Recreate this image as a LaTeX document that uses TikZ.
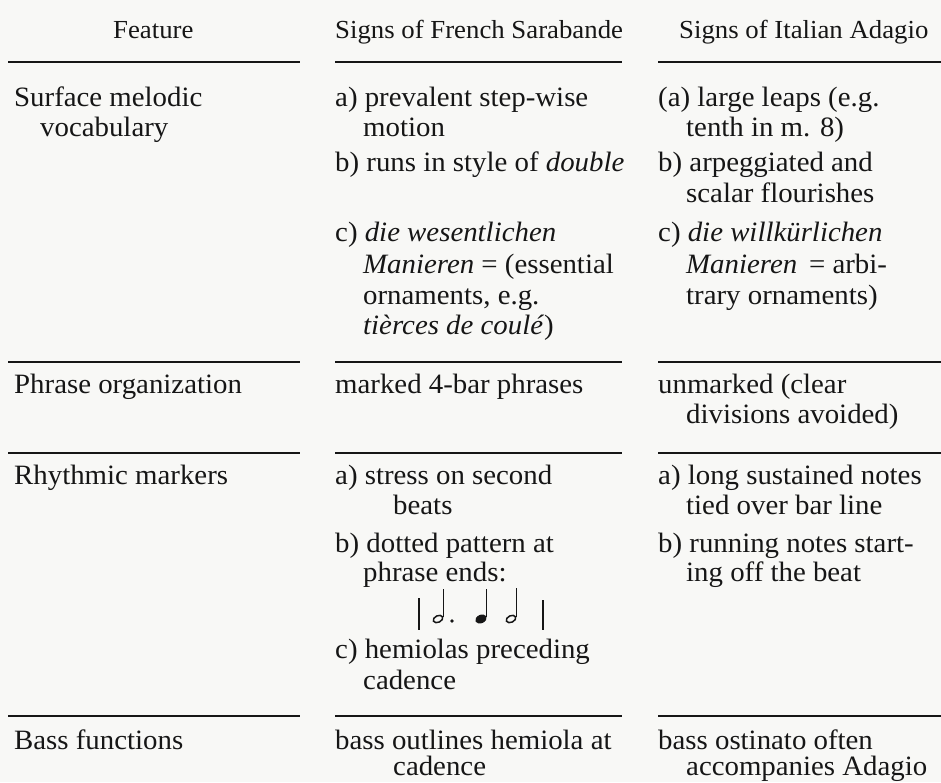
\documentclass[tikz,border=0pt]{standalone}
\usepackage{fontspec}
\setmainfont{Liberation Serif}[FakeStretch=1.03]
\definecolor{ink}{HTML}{161616}
\definecolor{paper}{HTML}{F8F8F6}
\newcommand\Tx[4]{\node[txt] (#1) at (#2,{782-#3}) {#4};}
\newcommand\Hx[4]{\node[hdr] (#1) at (#2,{782-#3}) {#4};}
\begin{document}
\begin{tikzpicture}[x=1pt,y=1pt,
  txt/.style={anchor=base west,inner sep=0pt,text=ink,font=\fontsize{28}{30}\selectfont},
  hdr/.style={anchor=base west,inner sep=0pt,text=ink,font=\fontsize{26}{30}\selectfont},
  rulee/.style={draw=ink,line width=1.8pt},
  bar/.style={draw=ink,line width=1.6pt},
  stem/.style={draw=ink,line width=1.3pt}]
\useasboundingbox (0,0) rectangle (941,782);
\fill[paper] (0,0) rectangle (941,782);
% header
\Hx{h1}{113}{39}{Feature}
\Hx{h2}{335}{39}{Signs of French Sarabande}
\Hx{h3}{679}{39}{Signs of Italian Adagio}
% rules
\foreach \y in {62,362,453,716}{
  \draw[rulee] (8,{782-\y}) -- (300,{782-\y});
  \draw[rulee] (335,{782-\y}) -- (622,{782-\y});
  \draw[rulee] (658,{782-\y}) -- (941,{782-\y});
}
% row 1
\Tx{r1a}{14}{107}{Surface melodic}
\Tx{r1b}{40}{137}{vocabulary}
\Tx{f1a}{335}{107}{a) prevalent step-wise}
\Tx{f1b}{363}{137}{motion}
\Tx{f1c}{335}{172}{b) runs in style of \textit{double}}
\Tx{f1d}{335}{242}{c) \textit{die wesentlichen}}
\Tx{f1e}{363}{274}{\textit{Manieren} = (essential}
\Tx{f1f}{363}{305}{ornaments, e.g.}
\Tx{f1g}{363}{335}{\textit{tièrces de coulé})}
\Tx{i1a}{658}{107}{(a) large leaps (e.g.}
\Tx{i1b}{686}{137}{tenth in m. 8)}
\Tx{i1c}{658}{172}{b) arpeggiated and}
\Tx{i1d}{686}{203}{scalar flourishes}
\Tx{i1e}{658}{242}{c) \textit{die willkürlichen}}
\Tx{i1f}{686}{274}{\textit{Manieren}\, = arbi-}
\Tx{i1g}{686}{305}{trary ornaments)}
% row 2
\Tx{r2a}{14}{394}{Phrase organization}
\Tx{f2a}{335}{394}{marked 4-bar phrases}
\Tx{i2a}{658}{394}{unmarked (clear}
\Tx{i2b}{686}{424}{divisions avoided)}
% row 3
\Tx{r3a}{14}{484}{Rhythmic markers}
\Tx{f3a}{335}{484}{a) stress on second}
\Tx{f3b}{393}{514}{beats}
\Tx{f3c}{335}{552}{b) dotted pattern at}
\Tx{f3d}{363}{581}{phrase ends:}
\Tx{f3e}{335}{658}{c) hemiolas preceding}
\Tx{f3f}{363}{689}{cadence}
\Tx{i3a}{658}{484}{a) long sustained notes}
\Tx{i3b}{686}{514}{tied over bar line}
\Tx{i3c}{658}{552}{b) running notes start-}
\Tx{i3d}{686}{581}{ing off the beat}
% music
\draw[bar] (419,{782-598}) -- (419,{782-630});
\draw[bar] (543,{782-600}) -- (543,{782-630});
\draw[ink,line width=1.5pt,rotate around={25:(438,{782-619})}] (438,{782-619}) ellipse [x radius=5,y radius=3.3];
\draw[stem] (443.6,{782-617}) -- (443.6,{782-589});
\fill[ink] (452,{782-621}) circle (1.9);
\fill[ink,rotate around={25:(481,{782-619})}] (481,{782-619}) ellipse [x radius=6,y radius=4.2];
\draw[stem] (486.6,{782-617}) -- (486.6,{782-589});
\draw[ink,line width=1.5pt,rotate around={25:(511,{782-619})}] (511,{782-619}) ellipse [x radius=5,y radius=3.3];
\draw[stem] (516.6,{782-617}) -- (516.6,{782-588});
% row 4
\Tx{r4a}{14}{749}{Bass functions}
\Tx{f4a}{335}{749}{bass outlines hemiola at}
\Tx{f4b}{393}{775}{cadence}
\Tx{i4a}{658}{749}{bass ostinato often}
\Tx{i4b}{686}{775}{accompanies Adagio}
\end{tikzpicture}
\end{document}
